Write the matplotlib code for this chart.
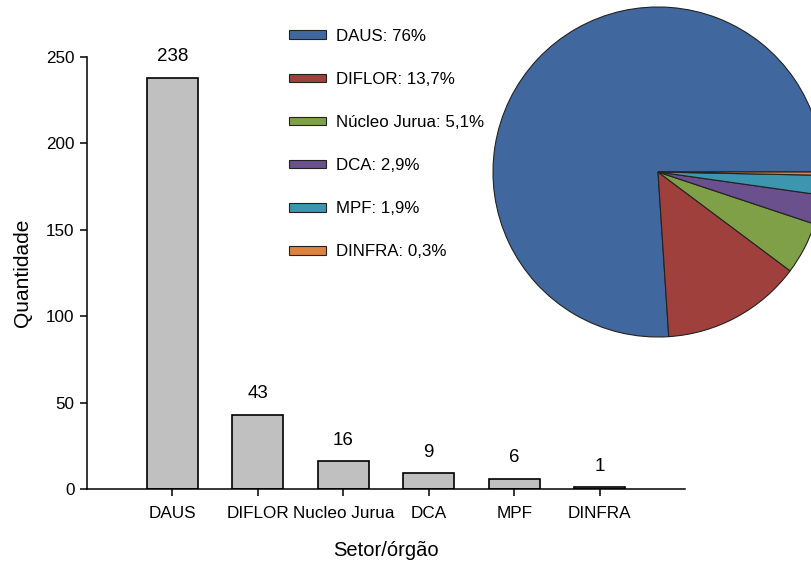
import numpy as np
import matplotlib
matplotlib.use('Agg')
import matplotlib.pyplot as plt

plt.rcParams['font.family'] = ['Liberation Sans', 'DejaVu Sans']

setores = ['DAUS', 'DIFLOR', 'Nucleo Jurua', 'DCA', 'MPF', 'DINFRA']
nomes_legenda = ['DAUS', 'DIFLOR', 'Núcleo Jurua', 'DCA', 'MPF', 'DINFRA']
quantidade = [238, 43, 16, 9, 6, 1]
cores_pizza = ['#41689E', '#A0403C', '#80A048', '#6A508C', '#3C96AF', '#DC823C']

fig = plt.figure(figsize=(8.11, 5.64), dpi=100)

# bar chart
ax = fig.add_axes([87/811, 1 - 489/564, (685-87)/811, (489-57)/564])
x = np.arange(len(setores))
ax.bar(x, quantidade, width=0.6, color='#C0C0C0', edgecolor='black', linewidth=1.2)
for xi, v in zip(x, quantidade):
    ax.annotate(str(v), (xi, v), xytext=(0, 9), textcoords='offset points',
                ha='center', va='bottom', fontsize=13.5)
ax.set_xlim(-1, 6)
ax.set_ylim(0, 250)
ax.set_xticks(x)
ax.set_xticklabels(setores, fontsize=12.3)
ax.set_yticks([0, 50, 100, 150, 200, 250])
ax.tick_params(axis='y', labelsize=12.3, length=5, width=1.1, pad=4)
ax.tick_params(axis='x', length=5, width=1.1, pad=7)
ax.spines['top'].set_visible(False)
ax.spines['right'].set_visible(False)
ax.spines['left'].set_linewidth(1.1)
ax.spines['bottom'].set_linewidth(1.1)
ax.set_ylabel('Quantidade', fontsize=15, labelpad=10)
ax.set_xlabel('Setor/órgão', fontsize=14.5, labelpad=15)

# pie inset
ax2 = fig.add_axes([493/811, 1 - 337/564, 330/811, 330/564])
wedges, _ = ax2.pie(quantidade, colors=cores_pizza, startangle=0,
                    wedgeprops=dict(edgecolor='#222222', linewidth=0.8))
ax2.set_xlim(-1, 1)
ax2.set_ylim(-1, 1)
ax2.set_aspect('equal')

total = sum(quantidade)
labels = []
for nome, v in zip(nomes_legenda, quantidade):
    pct = f'{v / total * 100:.1f}'.replace('.', ',')
    if pct.endswith(',0'):
        pct = pct[:-2]
    labels.append(f'{nome}: {pct}%')

fig.legend(wedges, labels, loc='upper left', bbox_to_anchor=(282/811, 1 - 22/564),
           frameon=False, fontsize=12.2, handlelength=2.2, handleheight=0.4,
           handletextpad=0.6, labelspacing=1.66, borderaxespad=0)

plt.savefig('out.png', dpi=100)
